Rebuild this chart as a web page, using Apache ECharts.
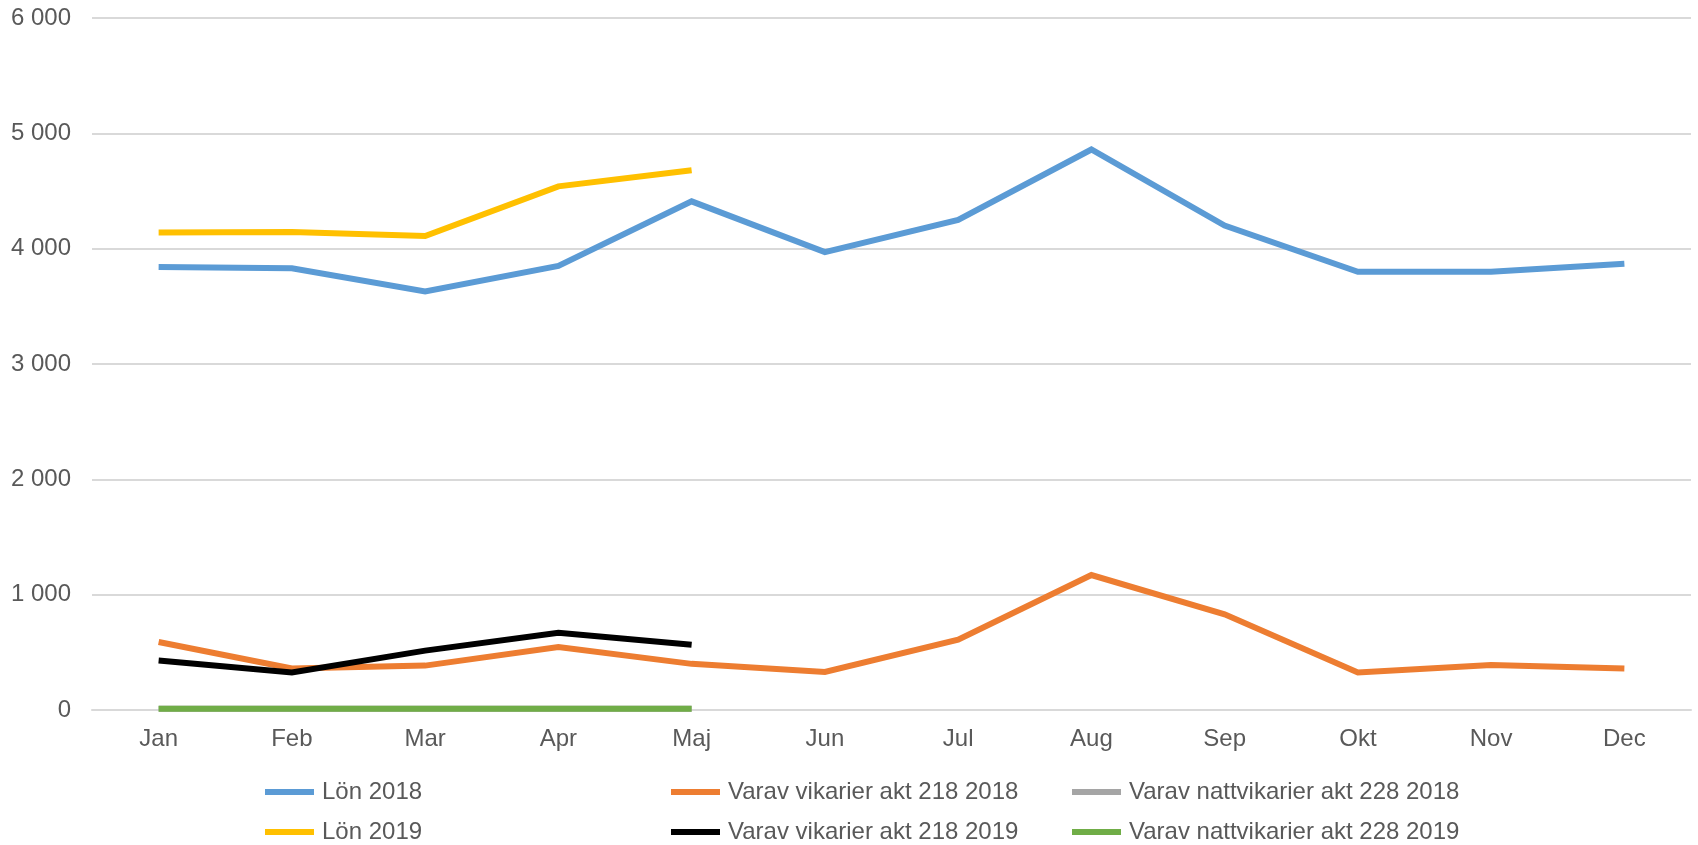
<!DOCTYPE html>
<html>
<head>
<meta charset="utf-8">
<script src="https://cdn.jsdelivr.net/npm/echarts@6/dist/echarts.min.js"></script>
<style>html,body{margin:0;padding:0;background:#fff}#c{width:1698px;height:845px}</style>
</head>
<body>
<div id="c"></div>
<script>
const months = ['Jan','Feb','Mar','Apr','Maj','Jun','Jul','Aug','Sep','Okt','Nov','Dec'];
const lon2018 = [3840, 3830, 3630, 3850, 4410, 3970, 4250, 4860, 4200, 3800, 3800, 3870];
const vik2018 = [590, 360, 385, 545, 400, 330, 610, 1170, 830, 325, 390, 360];
const natt2018 = [10, 10, 10, 10, 10];
const lon2019 = [4140, 4145, 4110, 4540, 4680];
const vik2019 = [430, 325, 515, 670, 565];
const natt2019 = [10, 10, 10, 10, 10];
const yTicks = [0, 1000, 2000, 3000, 4000, 5000, 6000];

const names = ['Lön 2018','Varav vikarier akt 218 2018','Varav nattvikarier akt 228 2018','Lön 2019','Varav vikarier akt 218 2019','Varav nattvikarier akt 228 2019'];
const colors = ['#5B9BD5','#ED7D31','#A5A5A5','#FFC000','#000000','#70AD47'];
const datas = [lon2018, vik2018, natt2018, lon2019, vik2019, natt2019];
const font = 'Liberation Sans, Arial, sans-serif';
const txt = '#595959';

const legendLeft = [265, 671, 1072];
const legendTop = [780, 820];
const legends = names.map((n, i) => ({
  data: [n],
  left: legendLeft[i % 3],
  top: legendTop[Math.floor(i / 3)],
  icon: 'rect',
  itemWidth: 49,
  itemHeight: 6,
  itemGap: 0,
  padding: 0,
  textStyle: {color: txt, fontSize: 24, fontFamily: font, padding: [0, 0, 0, 3]}
}));

const chart = echarts.init(document.getElementById('c'), null, {renderer: 'canvas'});
chart.setOption({
  animation: false,
  color: colors,
  legend: legends,
  grid: {left: 92, right: 7, top: 18, bottom: 135, containLabel: false},
  xAxis: {
    type: 'category',
    data: months,
    boundaryGap: true,
    axisLine: {show: true, lineStyle: {color: '#D9D9D9', width: 2}},
    axisTick: {show: false},
    axisLabel: {color: txt, fontSize: 24, fontFamily: font, margin: 17}
  },
  yAxis: {
    type: 'value',
    min: yTicks[0],
    max: yTicks[yTicks.length - 1],
    interval: 1000,
    axisLine: {show: false},
    axisTick: {show: false},
    splitLine: {lineStyle: {color: '#D9D9D9', width: 2}},
    axisLabel: {
      color: txt, fontSize: 24, fontFamily: font, margin: 21,
      formatter: v => String(v).replace(/\B(?=(\d{3})+(?!\d))/g, ' ')
    }
  },
  series: names.map((n, i) => ({
    name: n,
    type: 'line',
    data: datas[i],
    symbol: 'none',
    lineStyle: {width: 6, color: colors[i], cap: 'butt', join: 'miter'},
    itemStyle: {color: colors[i]},
    z: 2 + i
  }))
});
</script>
</body>
</html>
